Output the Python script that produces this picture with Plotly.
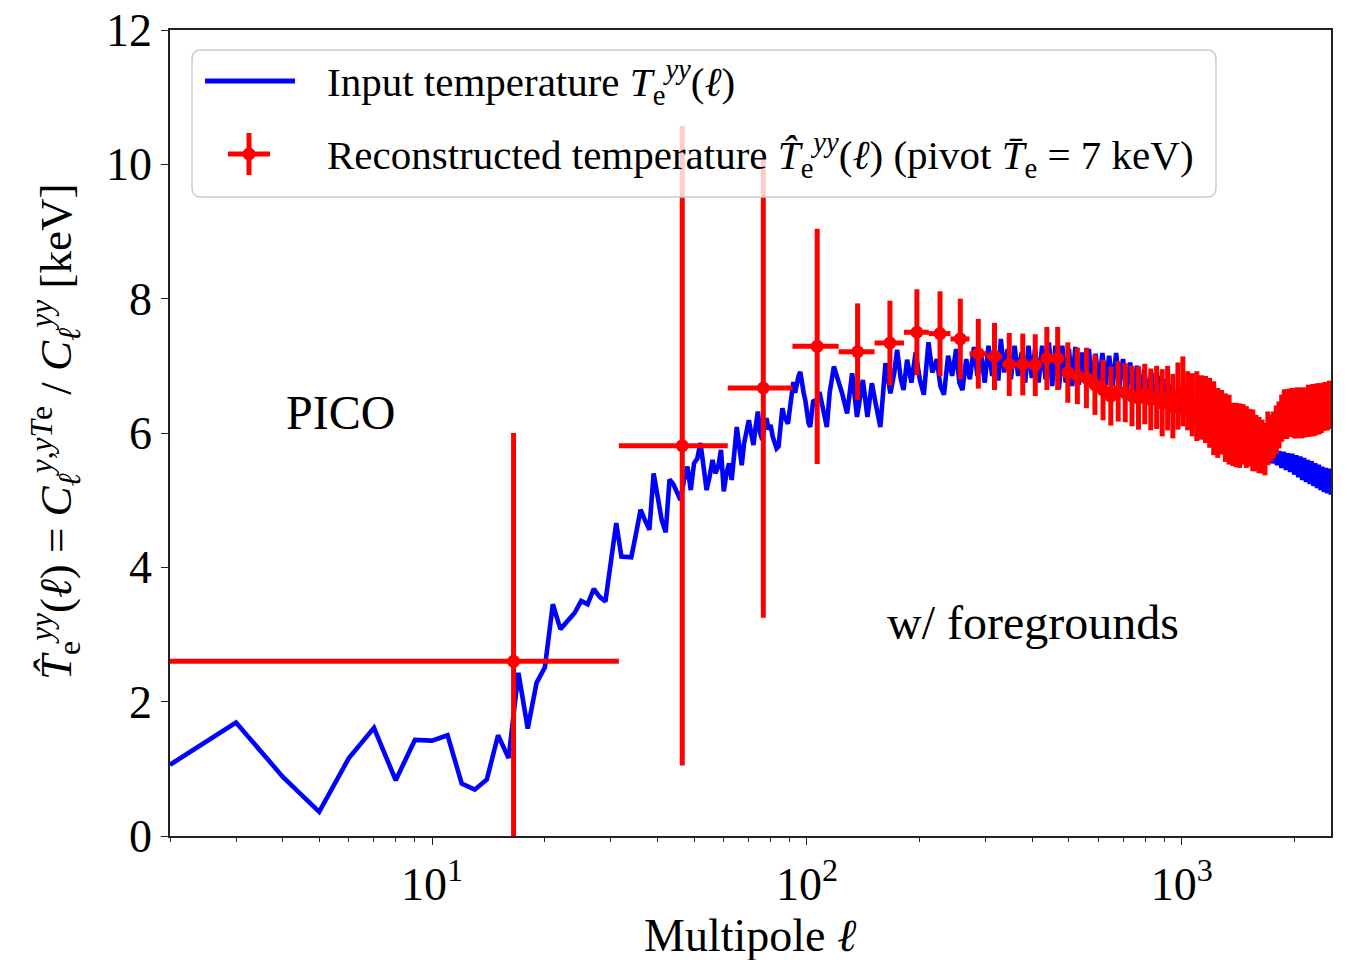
import plotly.graph_objects as go

# ---------------- data ----------------
ELL_INPUT = [
    2, 3, 4, 5, 6, 7, 8, 9, 10, 11, 12, 13, 14, 15, 16, 17, 18, 19, 20,
    21, 22, 23, 24, 25, 26, 27, 28, 29, 30, 31, 32, 33, 34, 35, 36, 37, 38, 39, 40,
    41, 42, 43, 44, 45, 46, 47, 48, 49, 50, 51, 52, 53, 54, 55, 56, 57, 58, 59, 60,
    61, 62, 63, 64, 65, 66, 67, 68, 69, 70, 71, 72, 73, 74, 75, 76, 77, 78, 79, 80,
    81, 82, 83, 84, 85, 86, 87, 88, 89, 90, 91, 92, 93, 94, 95, 96, 97, 98, 99, 100,
    101, 102, 103, 104, 106, 108, 110, 113, 115, 118, 121, 124, 128, 132, 136, 141,
    145, 149, 153, 157, 162, 167, 171, 174, 178, 181, 185,
    190, 195, 200, 205, 211, 216, 222, 227, 232, 238, 244, 250, 255, 260, 266, 272,
    279, 285, 292, 298, 305, 312, 318, 324, 329, 336, 343, 350, 358, 366, 374, 382,
    390, 398, 406, 415, 424, 433, 442, 451, 460, 470, 480, 490, 500, 510, 520, 531,
    542, 553, 565, 577, 589, 601, 614, 627, 640, 654, 668, 682, 697,
    712, 728, 744, 760, 777, 794, 811, 829, 847, 866, 885, 904, 924, 944, 965, 986,
    1008, 1030, 1053, 1076, 1100, 1124, 1149, 1174, 1200, 1226, 1253, 1281, 1309,
    1338, 1367, 1397, 1428, 1459, 1491, 1524, 1558, 1592, 1627, 1663, 1700,
    1720, 1745, 1770, 1795, 1820, 1845, 1870, 1895, 1920, 1945, 1970, 1995, 2020,
    2045, 2070, 2095, 2120, 2145, 2170, 2195, 2220, 2245, 2270, 2295, 2320, 2345,
    2370, 2395, 2420, 2445, 2470, 2500,
]
T_INPUT = [
    1.06, 1.69, 0.88, 0.36, 1.16, 1.61, 0.83, 1.43, 1.42, 1.50, 0.78, 0.69, 0.84, 1.50, 1.16, 2.43, 1.60, 2.28, 2.51,
    3.45, 3.08, 3.21, 3.32, 3.50, 3.45, 3.68, 3.56, 3.49, 4.05, 4.66, 4.16, 4.15, 4.15, 4.50, 4.86, 4.70, 4.56, 5.40, 5.00,
    4.70, 4.52, 5.31, 5.24, 5.10, 5.00, 5.30, 5.50, 5.15, 5.55, 5.62, 5.85, 5.50, 5.15, 5.35, 5.60, 5.40, 5.50, 5.75, 5.13,
    5.40, 5.55, 5.30, 5.80, 6.09, 5.80, 5.52, 5.85, 6.00, 6.19, 6.00, 5.82, 6.10, 6.32, 6.00, 5.90, 6.10, 6.22, 6.05, 6.12,
    5.95, 5.85, 5.77, 5.80, 6.10, 6.37, 6.25, 6.20, 6.14, 6.35, 6.55, 6.76, 6.60, 6.75, 6.85, 6.91, 6.70, 6.60, 6.49, 6.30,
    6.15, 6.09, 6.30, 6.49, 6.45, 6.61, 6.40, 6.09, 6.60, 6.99, 6.79, 6.60, 6.29, 6.89, 6.24, 6.79,
    6.24, 6.74, 6.40, 6.09, 7.04, 6.59, 6.90, 7.24, 6.80, 6.64, 7.09,
    6.75, 7.20, 6.80, 6.57, 7.35, 6.90, 7.10, 6.70, 6.57, 7.15, 6.85, 7.25, 6.75, 6.64, 7.10, 6.80,
    7.28, 6.85, 7.15, 6.75, 7.30, 6.85, 7.20, 6.78, 7.40, 6.90, 7.25, 6.80, 7.30, 6.85, 7.20, 6.75,
    7.30, 6.82, 7.25, 6.75, 7.30, 6.80, 7.35, 6.70, 7.30, 6.65, 7.30, 6.75, 7.25, 6.70, 7.28, 6.72,
    7.20, 6.75, 7.25, 6.70, 7.18, 6.70, 7.19, 6.72, 7.15, 6.70, 7.19, 6.70, 7.10,
    6.62, 7.05, 6.60, 7.00, 6.55, 6.95, 6.50, 6.90, 6.45, 6.85, 6.40, 6.80, 6.35, 6.72, 6.30, 6.65,
    6.25, 6.60, 6.20, 6.52, 6.15, 6.45, 6.10, 6.38, 6.05, 6.30, 6.00, 6.22, 5.95,
    6.15, 5.90, 6.08, 5.85, 6.02, 5.80, 5.95, 5.75, 5.90, 5.68, 5.82, 5.62,
    5.76, 5.55, 5.74, 5.52, 5.73, 5.48, 5.72, 5.45, 5.70, 5.42, 5.69, 5.38, 5.67,
    5.34, 5.65, 5.30, 5.63, 5.27, 5.60, 5.24, 5.58, 5.21, 5.55, 5.18, 5.53, 5.15,
    5.50, 5.12, 5.48, 5.10, 5.47, 5.08,
]

ELL_BIN = [
    16.5, 46.5, 76.5, 106.5, 136.5, 166.5, 196.5, 226.5, 256.5, 286.5, 316.5, 346.5,
    376.5, 406.5, 436.5, 466.5, 496.5, 526.5, 556.5, 586.5, 616.5, 646.5, 676.5, 706.5,
    736.5, 766.5, 796.5, 826.5, 856.5, 886.5, 916.5, 946.5, 976.5, 1006.5, 1036.5,
    1066.5, 1096.5, 1126.5, 1156.5, 1186.5, 1216.5, 1246.5, 1276.5, 1306.5, 1336.5,
    1366.5, 1396.5, 1426.5, 1456.5, 1486.5, 1516.5, 1546.5, 1576.5, 1606.5, 1636.5,
    1666.5, 1696.5, 1726.5, 1756.5, 1786.5, 1816.5, 1846.5, 1876.5, 1906.5, 1936.5,
    1966.5, 1996.5, 2026.5, 2056.5, 2086.5, 2116.5, 2146.5, 2176.5, 2206.5, 2236.5,
    2266.5, 2296.5, 2326.5, 2356.5, 2386.5, 2416.5, 2446.5, 2476.5,
]
T_REC = [
    2.60, 5.81, 6.67, 7.29, 7.21, 7.34, 7.50, 7.48, 7.40, 7.18, 7.14, 7.02,
    7.02, 7.01, 7.11, 7.11, 6.90, 6.85, 6.82, 6.72, 6.64, 6.55, 6.62, 6.60,
    6.55, 6.52, 6.58, 6.50, 6.53, 6.45, 6.52, 6.40, 6.55, 6.62, 6.48,
    6.42, 6.40, 6.38, 6.35, 6.30, 6.22, 6.15, 6.16, 6.08, 6.05,
    5.98, 5.97, 5.96, 5.98, 5.94, 5.93, 5.89, 5.85, 5.82, 5.80,
    5.76, 5.92, 5.92, 5.97, 6.05, 6.12, 6.22, 6.28, 6.28, 6.30,
    6.31, 6.29, 6.30, 6.31, 6.30, 6.30, 6.32, 6.33, 6.32, 6.34,
    6.33, 6.36, 6.36, 6.37, 6.39, 6.40, 6.40, 6.42,
]
T_ERR = [
    3.40, 4.76, 3.42, 1.75, 0.72, 0.63, 0.64, 0.63, 0.60, 0.52, 0.50, 0.47,
    0.46, 0.46, 0.47, 0.47, 0.45, 0.42, 0.45, 0.45, 0.45, 0.44, 0.45, 0.44,
    0.45, 0.47, 0.45, 0.46, 0.47, 0.50, 0.48, 0.48, 0.50, 0.52, 0.44,
    0.47, 0.52, 0.48, 0.50, 0.52, 0.55, 0.52, 0.48, 0.51, 0.52,
    0.47, 0.48, 0.48, 0.45, 0.46, 0.43, 0.46, 0.42, 0.42, 0.40,
    0.39, 0.40, 0.35, 0.35, 0.36, 0.35, 0.35, 0.37, 0.37, 0.36,
    0.36, 0.37, 0.38, 0.36, 0.38, 0.37, 0.36, 0.39, 0.37, 0.39,
    0.37, 0.38, 0.38, 0.37, 0.36, 0.36, 0.36, 0.36,
]
BIN_HALF_WIDTH = 15

X_MAJOR = [10, 100, 1000]
X_MAJOR_TEXT = ["10<sup>1</sup>", "10<sup>2</sup>", "10<sup>3</sup>"]
X_MINOR = [2, 3, 4, 5, 6, 7, 8, 9, 20, 30, 40, 50, 60, 70, 80, 90,
           200, 300, 400, 500, 600, 700, 800, 900, 2000]
Y_TICKS = [0, 2, 4, 6, 8, 10, 12]

# ---------------- layout helpers ----------------
W, H = 1347, 960
L, R, T, B = 170, 16, 30, 124
PW, PH = W - L - R, H - T - B


def px(x):
    return (x - L) / PW


def py(y):
    return (H - B - y) / PH


FONT = "Liberation Serif, Times New Roman, serif"
BLUE = "#0000ff"
RED = "#ff0000"

fig = go.Figure()

fig.add_trace(go.Scatter(
    x=ELL_INPUT, y=T_INPUT, mode="lines",
    line=dict(color=BLUE, width=4.6),
    showlegend=False, hoverinfo="skip",
))

fig.add_trace(go.Scatter(
    x=ELL_BIN, y=T_REC, mode="markers",
    marker=dict(color=RED, size=13, line=dict(width=0)),
    error_y=dict(type="data", array=T_ERR, color=RED, thickness=5, width=0),
    error_x=dict(type="constant", value=BIN_HALF_WIDTH, color=RED, thickness=5, width=0),
    showlegend=False, hoverinfo="skip",
))

# ---------------- manual legend ----------------
x0, x1, y0, y1 = px(192), px(1216), py(50), py(197)
rx, ry = 9 / PW, 9 / PH
legend_path = (
    f"M{x0 + rx},{y0} L{x1 - rx},{y0} Q{x1},{y0} {x1},{y0 - ry} "
    f"L{x1},{y1 + ry} Q{x1},{y1} {x1 - rx},{y1} "
    f"L{x0 + rx},{y1} Q{x0},{y1} {x0},{y1 + ry} "
    f"L{x0},{y0 - ry} Q{x0},{y0} {x0 + rx},{y0} Z"
)
shapes = [
    dict(type="path", path=legend_path, xref="paper", yref="paper", layer="above",
         fillcolor="rgba(255,255,255,0.8)", line=dict(color="#cccccc", width=1.5)),
    dict(type="line", xref="paper", yref="paper", layer="above",
         x0=px(205), x1=px(295), y0=py(81), y1=py(81),
         line=dict(color=BLUE, width=5)),
    dict(type="line", xref="paper", yref="paper", layer="above",
         x0=px(228), x1=px(270), y0=py(154), y1=py(154),
         line=dict(color=RED, width=5)),
    dict(type="line", xref="paper", yref="paper", layer="above",
         x0=px(249), x1=px(249), y0=py(133), y1=py(175),
         line=dict(color=RED, width=5)),
    dict(type="circle", xref="paper", yref="paper", layer="above",
         x0=px(249 - 6.5), x1=px(249 + 6.5), y0=py(154 + 6.5), y1=py(154 - 6.5),
         fillcolor=RED, line=dict(width=0)),
]

annotations = [
    dict(text="Input temperature <i>T</i><sub>e</sub><sup><i>yy</i></sup>(<i>ℓ</i>)",
         x=px(325), y=py(82), xref="paper", yref="paper", xanchor="left", yanchor="middle",
         showarrow=False, font=dict(family=FONT, size=41, color="black")),
    dict(text="Reconstructed temperature <i>T̂</i><sub>e</sub><sup><i>yy</i></sup>(<i>ℓ</i>) "
              "(pivot <i>T̄</i><sub>e</sub> = 7 keV)",
         x=px(325), y=py(155), xref="paper", yref="paper", xanchor="left", yanchor="middle",
         showarrow=False, font=dict(family=FONT, size=41, color="black")),
    dict(text="PICO", x=px(340), y=py(412), xref="paper", yref="paper",
         xanchor="center", yanchor="middle", showarrow=False,
         font=dict(family=FONT, size=48, color="black")),
    dict(text="w/ foregrounds", x=px(1033), y=py(622), xref="paper", yref="paper",
         xanchor="center", yanchor="middle", showarrow=False,
         font=dict(family=FONT, size=48, color="black")),
    dict(text="Multipole <i>ℓ</i>", x=px(750), y=py(935), xref="paper", yref="paper",
         xanchor="center", yanchor="middle", showarrow=False,
         font=dict(family=FONT, size=46, color="black")),
    dict(text="<i>T̂</i><sub>e</sub><sup><i>yy</i></sup>(<i>ℓ</i>) = "
              "<i>C</i><sub><i>ℓ</i></sub><sup><i>y</i>,<i>yT</i>e</sup> / "
              "<i>C</i><sub><i>ℓ</i></sub><sup><i>yy</i></sup> [keV]",
         x=px(55), y=py(432), xref="paper", yref="paper", textangle=-90,
         xanchor="center", yanchor="middle", showarrow=False,
         font=dict(family=FONT, size=45, color="black")),
]

fig.update_layout(
    width=W, height=H,
    margin=dict(l=L, r=R, t=T, b=B, pad=0, autoexpand=False),
    paper_bgcolor="white", plot_bgcolor="white",
    font=dict(family=FONT, color="black"),
    shapes=shapes, annotations=annotations,
    showlegend=False,
)

fig.update_xaxes(
    type="log", range=[0.30103, 3.39794], automargin=False,
    showgrid=False, zeroline=False,
    showline=True, linecolor="#222222", linewidth=1.5, mirror=True,
    tickmode="array", tickvals=X_MAJOR, ticktext=X_MAJOR_TEXT,
    ticks="outside", ticklen=7, tickwidth=1.2, tickcolor="#222222",
    tickfont=dict(family=FONT, size=46, color="black"),
    minor=dict(tickmode="array", tickvals=X_MINOR, ticks="outside",
               ticklen=4, tickwidth=1, tickcolor="#222222", showgrid=False),
)
fig.update_yaxes(
    range=[0, 12], automargin=False,
    showgrid=False, zeroline=False,
    showline=True, linecolor="#222222", linewidth=1.5, mirror=True,
    tickmode="array", tickvals=Y_TICKS,
    ticks="outside", ticklen=7, tickwidth=1.2, tickcolor="#222222",
    tickfont=dict(family=FONT, size=46, color="black"),
)

fig.write_html("out.html")
